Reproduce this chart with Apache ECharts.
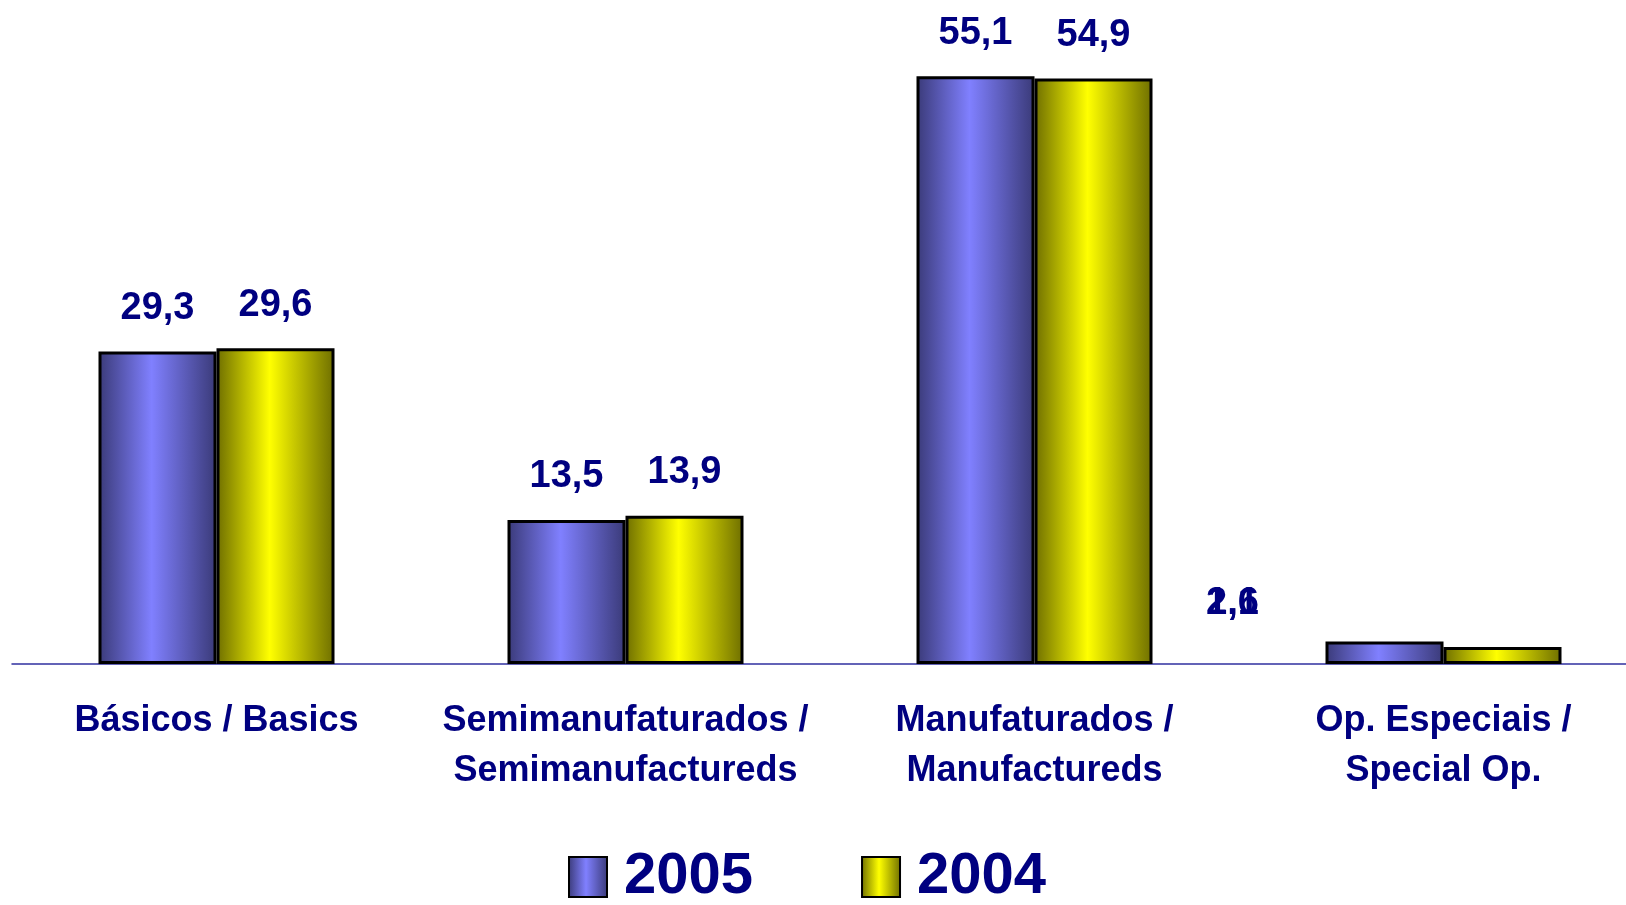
<!DOCTYPE html>
<html>
<head>
    <meta charset="utf-8">
    <title></title>
    <script src="https://cdn.jsdelivr.net/npm/echarts@6/dist/echarts.min.js"></script>
    <style>
        html, body { margin: 0; padding: 0; background: #fff; }
        #main { width: 1626px; height: 905px; }
    </style>
</head>
<body>
<div id="main"></div>
<script type="text/javascript">
    var categories = ['Básicos / Basics', 'Semimanufaturados /\nSemimanufactureds', 'Manufaturados /\nManufactureds', 'Op. Especiais /\nSpecial Op.'];
    var values2005 = [29.3, 13.5, 55.1, 2.1];
    var values2004 = [29.6, 13.9, 54.9, 1.6];
    var seriesNames = ['2005', '2004'];

    var font = '"Liberation Sans", Arial, sans-serif';
    var navy = '#000080';

    function barGradient(dark, light) {
        return new echarts.graphic.LinearGradient(0, 0, 1, 0, [
            {offset: 0, color: dark},
            {offset: 0.45, color: light},
            {offset: 1, color: dark}
        ]);
    }

    // the labels of the last group sit off to the left, on top of each other
    var labelShift = [[-152, 5], [-270, 0]];

    function makeData(values, idx) {
        return values.map(function (v, i) {
            if (i === values.length - 1) {
                return {value: v, label: {offset: labelShift[idx]}};
            }
            return v;
        });
    }

    function comma(p) {
        return String(p.value).replace('.', ',');
    }

    var chart = echarts.init(document.getElementById('main'));
    var option = {
        animation: false,
        grid: {left: 12, right: -22, top: 24, bottom: 241, outerBoundsMode: 'none', containLabel: false},
        legend: {
            left: 563,
            top: 843,
            icon: 'rect',
            itemWidth: 38,
            itemHeight: 40,
            itemGap: 108,
            textStyle: {
                fontFamily: font,
                fontWeight: 'bold',
                fontSize: 58,
                color: navy,
                padding: [0, 0, 0, 12]
            },
            data: seriesNames
        },
        xAxis: {
            type: 'category',
            data: categories,
            axisLine: {lineStyle: {color: '#3030a0', width: 1.5}},
            axisTick: {show: false},
            axisLabel: {
                interval: 0,
                margin: 32,
                fontFamily: font,
                fontWeight: 'bold',
                fontSize: 36,
                lineHeight: 50,
                color: navy
            }
        },
        yAxis: {
            type: 'value',
            min: 0,
            max: 60,
            show: false,
            splitLine: {show: false}
        },
        series: [
            {
                name: seriesNames[0],
                type: 'bar',
                data: makeData(values2005, 0),
                barWidth: 118,
                barGap: '0%',
                itemStyle: {
                    color: barGradient('#3a3a78', '#8080ff'),
                    borderColor: '#000',
                    borderWidth: 3
                },
                label: {
                    show: true,
                    position: 'top',
                    distance: 24,
                    formatter: comma,
                    fontFamily: font,
                    fontWeight: 'bold',
                    fontSize: 38,
                    color: navy
                }
            },
            {
                name: seriesNames[1],
                type: 'bar',
                data: makeData(values2004, 1),
                barWidth: 118,
                itemStyle: {
                    color: barGradient('#6e6e00', '#ffff00'),
                    borderColor: '#000',
                    borderWidth: 3
                },
                label: {
                    show: true,
                    position: 'top',
                    distance: 24,
                    formatter: comma,
                    fontFamily: font,
                    fontWeight: 'bold',
                    fontSize: 38,
                    color: navy
                }
            }
        ]
    };
    chart.setOption(option);
    window.onresize = function () {
        chart.resize();
    };
</script>
</body>
</html>
